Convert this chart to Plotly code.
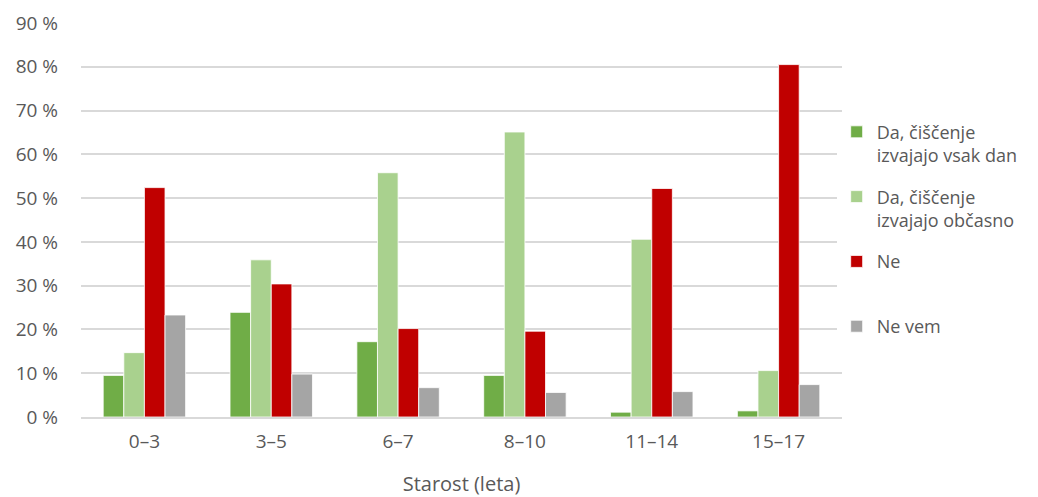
import plotly.graph_objects as go

# Age groups (categories)
starost = ["0–3", "3–5", "6–7", "8–10", "11–14", "15–17"]

# Shares in percent
vsak_dan = [9.5, 23.9, 17.2, 9.5, 1.1, 1.4]
obcasno = [14.7, 35.9, 55.8, 65.1, 40.6, 10.6]
ne = [52.4, 30.4, 20.2, 19.6, 52.2, 80.5]
ne_vem = [23.3, 9.8, 6.7, 5.6, 5.8, 7.4]

series_names = [
    "Da, čiščenje<br>izvajajo vsak dan",
    "Da, čiščenje<br>izvajajo občasno",
    "Ne<br> ",
    "Ne vem",
]
series_values = [vsak_dan, obcasno, ne, ne_vem]
colors = ["#70AD47", "#A9D18E", "#C00000", "#A5A5A5"]

TEXT = "#595959"
GRID = "#D9D9D9"

fig = go.Figure()
for i, (name, vals) in enumerate(zip(series_names, series_values)):
    fig.add_trace(go.Bar(
        x=starost,
        y=vals,
        name=name,
        legendgroup=f"g{i}",
        marker=dict(color=colors[i], line=dict(color="white", width=0.8)),
    ))

# the page body sits 8px in, so the figure is 8px smaller each way
fig.update_layout(
    width=1030,
    height=489,
    barmode="group",
    bargap=0.35,
    bargroupgap=0,
    paper_bgcolor="white",
    plot_bgcolor="white",
    font=dict(family="Open Sans, sans-serif", size=19, color=TEXT),
    margin=dict(l=73, r=196, t=15, b=80, autoexpand=False),
    xaxis=dict(
        title=dict(text="Starost (leta)", font=dict(size=20, color=TEXT), standoff=28),
        showline=True,
        linecolor=GRID,
        linewidth=1.5,
        ticks="",
        tickfont=dict(size=19, color=TEXT),
        ticklabelstandoff=6,
    ),
    yaxis=dict(
        range=[0, 90],
        dtick=10,
        ticksuffix=" %",
        showgrid=True,
        gridcolor=GRID,
        gridwidth=1.5,
        zeroline=False,
        tickfont=dict(size=19, color=TEXT),
        ticklabelstandoff=22,
    ),
    legend=dict(
        x=0.993,
        xanchor="left",
        y=0.77,
        yanchor="top",
        valign="top",
        tracegroupgap=15,
        font=dict(size=18, color=TEXT),
        itemwidth=30,
    ),
)

fig.write_html("out.html")
